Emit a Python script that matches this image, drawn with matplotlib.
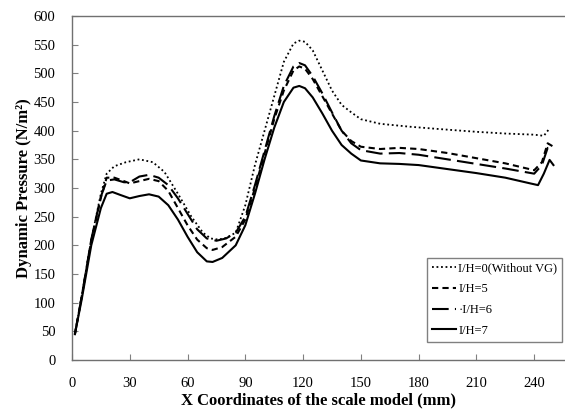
import numpy as np
import matplotlib.pyplot as plt

plt.rcParams['font.family'] = ['Liberation Serif', 'DejaVu Serif']

# I/H=0 (without VG)
x0 = [1.5, 5, 10, 15, 18, 22, 28, 35, 42, 48, 55, 62, 68, 72, 76, 80, 85, 90, 95, 100,
      105, 110, 115, 118, 121, 125, 130, 135, 140, 145, 150, 160, 175, 190, 210, 225,
      240, 245, 248]
y0 = [45, 110, 210, 290, 325, 338, 345, 350, 345, 328, 290, 250, 222, 212, 210, 213,
      222, 270, 340, 400, 460, 520, 552, 557, 555, 540, 505, 470, 445, 432, 420, 412,
      407, 403, 398, 395, 393, 391, 404]

# I/H=5
x5 = [1.5, 5, 10, 15, 18, 22, 27, 30, 35, 40, 45, 50, 55, 60, 65, 70, 73, 78, 85, 90,
      95, 100, 105, 110, 115, 118, 121, 125, 130, 135, 140, 145, 150, 160, 170, 180,
      195, 210, 225, 240, 244, 247, 250]
y5 = [45, 110, 208, 283, 318, 318, 312, 308, 312, 316, 312, 295, 265, 235, 210, 195,
      192, 197, 215, 245, 300, 360, 420, 470, 505, 512, 508, 490, 460, 430, 400, 382,
      372, 368, 370, 368, 361, 352, 343, 331, 345, 378, 372]

# I/H=6
x6 = [1.5, 5, 10, 15, 18, 22, 27, 30, 35, 40, 45, 50, 55, 60, 65, 70, 75, 80, 85, 90,
      95, 100, 105, 110, 115, 118, 121, 125, 130, 135, 140, 145, 150, 160, 170, 180,
      195, 210, 225, 240, 244, 247, 250]
y6 = [45, 110, 210, 285, 313, 315, 310, 310, 320, 323, 318, 305, 282, 255, 228, 212,
      208, 212, 222, 250, 305, 365, 425, 478, 512, 518, 514, 495, 465, 432, 400, 378,
      366, 360, 361, 358, 350, 342, 334, 325, 340, 370, 365]

# I/H=7
x7 = [1.5, 5, 10, 15, 18, 21, 25, 30, 35, 40, 45, 50, 55, 60, 65, 70, 73, 78, 85, 90,
      95, 100, 105, 110, 115, 118, 121, 125, 130, 135, 140, 145, 150, 160, 170, 180,
      195, 210, 225, 238, 242, 245, 248, 250]
y7 = [45, 105, 200, 265, 290, 293, 288, 282, 286, 289, 285, 270, 245, 215, 188, 172,
      171, 178, 200, 235, 290, 350, 405, 450, 475, 478, 474, 458, 430, 400, 375, 360,
      348, 343, 342, 340, 333, 326, 318, 308, 305, 325, 349, 340]

labels = ["I/H=0(Without VG)", "I/H=5", "·I/H=6", "I/H=7"]
x_ticks = [0, 30, 60, 90, 120, 150, 180, 210, 240]
y_ticks = [0, 50, 100, 150, 200, 250, 300, 350, 400, 450, 500, 550, 600]

fig = plt.figure(figsize=(5.65, 4.15), dpi=100)
ax = fig.add_axes([72 / 565, 55 / 415, 1 - 72 / 565, (360 - 16) / 415])

ax.plot(x0, y0, color="black", lw=1.3, linestyle=(0, (1, 1.5)), label=labels[0])
ax.plot(x5, y5, color="black", lw=1.5, linestyle=(0, (3, 2)), label=labels[1])
ax.plot(x6, y6, color="black", lw=1.5, linestyle=(0, (8, 3)), label=labels[2])
ax.plot(x7, y7, color="black", lw=1.5, linestyle="-", label=labels[3])

ax.set_xlim(0, 256)
ax.set_ylim(0, 600)
ax.set_xticks(x_ticks)
ax.set_yticks(y_ticks)
ax.tick_params(direction="in", length=4, width=0.8, color="#808080",
               labelsize=10.5, pad=12)

for side in ["left", "bottom", "top"]:
    ax.spines[side].set_color("#707070")
    ax.spines[side].set_linewidth(1.0)
ax.spines["right"].set_visible(False)

ax.set_xlabel("X Coordinates of the scale model (mm)", fontsize=12,
              fontweight="bold", labelpad=2)
ax.set_ylabel("Dynamic Pressure (N/m²)", fontsize=12, fontweight="bold",
              labelpad=1)

leg = ax.legend(loc="lower left", bbox_to_anchor=(0.72, 0.053), fontsize=9,
                frameon=True, fancybox=False, handlelength=1.9,
                handletextpad=0.2, labelspacing=0.7, borderaxespad=0,
                borderpad=0.4)
leg.get_frame().set_edgecolor("#606060")
leg.get_frame().set_linewidth(1.0)

fig.savefig("out.png", dpi=100)
